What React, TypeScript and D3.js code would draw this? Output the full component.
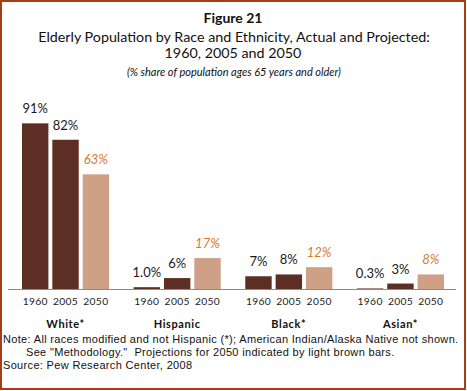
import * as d3 from "d3";

// chart values
const groups = ["White*", "Hispanic", "Black*", "Asian*"];
const years = ["1960", "2005", "2050"];
const share1960 = [91, 1.0, 7, 0.3];
const share2005 = [82, 6, 8, 3];
const share2050 = [63, 17, 12, 8];
const labels1960 = ["91%", "1.0%", "7%", "0.3%"];
const labels2005 = ["82%", "6%", "8%", "3%"];
const labels2050 = ["63%", "17%", "12%", "8%"];

const W = 467, H = 391;
const dark = "#5d2e23", light = "#cea187", orange = "#d8782f";
const font = "Lato, 'Open Sans', sans-serif";
const noteFont = "'Liberation Sans', Arial, sans-serif";

export default function App() {
  const series = [share1960, share2005, share2050];
  const labelSeries = [labels1960, labels2005, labels2050];

  const baseY = 289;
  const x0 = d3.scaleBand().domain(groups).range([22, 444]).paddingInner(0.22);
  const x1 = d3.scaleBand().domain(years).range([0, x0.bandwidth()]).paddingInner(0.13);
  const y = d3.scaleLinear().domain([0, 100]).range([baseY, baseY - 182]);

  return (
    <svg width={W} height={H} style={{ position: "absolute", left: 0, top: 0 }} fontFamily={font}>
      <rect x={1} y={1} width={W - 3} height={H - 3} fill="#fff" stroke="#a33f12" strokeWidth={2} />

      <text x={233} y={23} textAnchor="middle" fontSize={14} fontWeight="bold" fill="#111">Figure 21</text>
      <text x={234} y={42} textAnchor="middle" fontSize={14.3} fill="#111">
        Elderly Population by Race and Ethnicity, Actual and Projected:
      </text>
      <text x={233} y={58} textAnchor="middle" fontSize={14.3} fill="#111">1960, 2005 and 2050</text>
      <text x={234} y={76} textAnchor="middle" fontSize={11} fontStyle="italic" fill="#111">
        (% share of population ages 65 years and older)
      </text>

      {groups.map((g, gi) => (
        <g key={g} transform={`translate(${x0(g)},0)`}>
          {years.map((yr, yi) => {
            const v = series[yi][gi];
            const bx = x1(yr)!;
            const proj = yi === 2;
            return (
              <g key={yr}>
                <rect x={bx} y={y(v)} width={x1.bandwidth()} height={baseY - y(v)} fill={proj ? light : dark} />
                <text
                  x={bx + x1.bandwidth() / 2}
                  y={y(v) - 10}
                  textAnchor="middle"
                  fontSize={13}
                  fontStyle={proj ? "italic" : "normal"}
                  fill={proj ? orange : "#1a1a1a"}
                >
                  {labelSeries[yi][gi]}
                </text>
                <text x={bx + x1.bandwidth() / 2} y={305} textAnchor="middle" fontSize={10.3}
                  letterSpacing={0.3} fill="#1a1a1a">
                  {yr}
                </text>
              </g>
            );
          })}
          <text x={x0.bandwidth() / 2} y={328} textAnchor="middle" fontSize={11} fontWeight="bold"
            letterSpacing={0.6} fill="#111">
            {g}
          </text>
        </g>
      ))}

      <line x1={8} x2={456} y1={baseY + 0.5} y2={baseY + 0.5} stroke="#8a8a8a" strokeWidth={1} />

      <g fontFamily={noteFont} fontSize={11} letterSpacing={0.33} fill="#111">
        <text x={3} y={343}>
          Note: All races modified and not Hispanic (*); American Indian/Alaska Native not shown.
        </text>
        <text x={26} y={356} style={{ whiteSpace: "pre" }}>
          See "Methodology."  Projections for 2050 indicated by light brown bars.
        </text>
        <text x={3} y={369}>Source: Pew Research Center, 2008</text>
      </g>
    </svg>
  );
}
